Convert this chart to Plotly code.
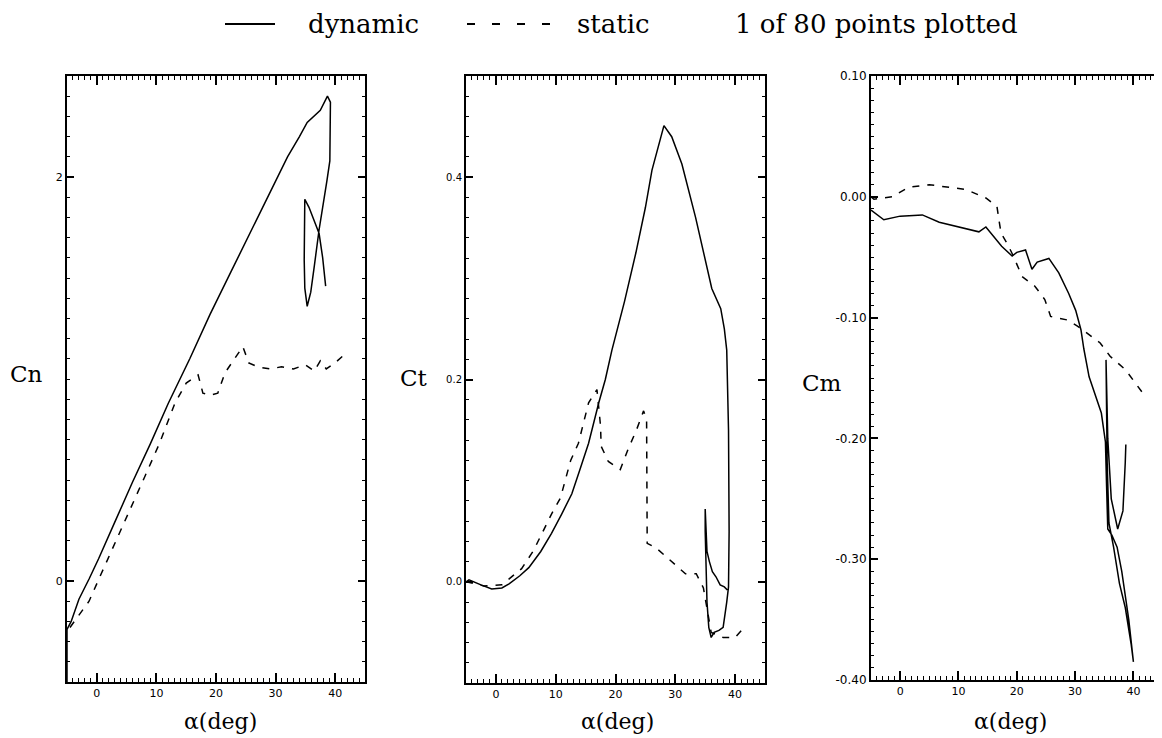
import plotly.graph_objects as go

# ---------------- data ----------------
cn_dyn_alpha = [-5.0, -5.0, -4.3, -3.0, -1.3, 0.3, 3, 6, 9, 12, 15.6, 19, 22.5, 25.5, 28.1, 30.0, 32.0, 34.0,
                35.3, 37.5, 38.7, 39.2, 39.1, 38.6, 37.8, 37.3, 36.5, 35.9, 35.3, 34.9, 34.8, 34.9, 35.6,
                36.5, 37.3, 37.9, 38.4]
cn_dyn = [-0.50, -0.24, -0.20, -0.09, 0.01, 0.11, 0.29, 0.49, 0.68, 0.88, 1.10, 1.32, 1.53, 1.71, 1.87, 1.98,
          2.10, 2.20, 2.27, 2.33, 2.40, 2.37, 2.08, 1.98, 1.84, 1.74, 1.56, 1.43, 1.36, 1.45, 1.59, 1.89, 1.85,
          1.78, 1.72, 1.60, 1.46]

cn_sta_alpha = [-4.5, -3, -1.3, 0.5, 2.5, 5, 8.1, 10.5, 13.1, 15, 17, 17.8, 19, 20.3, 21.5, 23.1, 24.5, 25.5,
                27, 29, 31, 33, 35, 36.5, 37.5, 38.5, 40, 41.5]
cn_sta = [-0.23, -0.17, -0.10, 0.02, 0.15, 0.31, 0.52, 0.68, 0.88, 0.98, 1.02, 0.93, 0.92, 0.93, 1.03, 1.10,
          1.16, 1.08, 1.06, 1.05, 1.06, 1.05, 1.07, 1.04, 1.09, 1.05, 1.08, 1.12]

ct_dyn_alpha = [-5, -4.5, -2.5, -0.7, 1, 2.2, 4, 5.5, 7.5, 9.3, 11, 12.7, 14, 15.5, 17.2, 18.3, 19.4, 21.5,
                23.4, 25, 26.1, 27.2, 28.1, 29.4, 31.1, 33.4, 35, 36.1, 37.6, 38.2, 38.6, 38.9, 39.0, 38.9,
                38.6, 38.0, 37.3, 36.5, 36.0, 35.6, 35.3, 35.1, 35.0, 35.0, 35.3, 35.7, 36.2, 36.8, 37.5,
                38.2, 38.7]
ct_dyn = [0.0, 0.002, -0.003, -0.007, -0.006, -0.002, 0.006, 0.014, 0.030, 0.048, 0.067, 0.087, 0.11, 0.137,
          0.177, 0.20, 0.229, 0.277, 0.325, 0.37, 0.407, 0.432, 0.451, 0.44, 0.413, 0.36, 0.32, 0.29, 0.27,
          0.25, 0.229, 0.15, 0.05, -0.005, -0.02, -0.045, -0.048, -0.05, -0.055, -0.045, -0.02, 0.02, 0.05,
          0.072, 0.03, 0.02, 0.01, 0.005, -0.003, -0.005, -0.008]

ct_sta_alpha = [-5, -2, 1, 4.3, 6.3, 9.3, 10.8, 12.5, 13.8, 15.5, 16.9, 17.5, 17.6, 18.8, 20.8, 22.1, 23.5,
                24.7, 25.2, 25.3, 26.7, 29.2, 31.7, 33.5, 34.7, 36, 38, 40, 41.5]
ct_sta = [0.0, -0.004, -0.003, 0.013, 0.031, 0.067, 0.083, 0.12, 0.137, 0.177, 0.19, 0.154, 0.134, 0.119,
          0.111, 0.131, 0.15, 0.169, 0.16, 0.038, 0.034, 0.021, 0.008, 0.008, -0.006, -0.05, -0.055, -0.055,
          -0.045]

cm_dyn_alpha = [-5, -2.8, 0, 3.8, 6.7, 10.1, 13.5, 14.7, 16, 17.4, 19.2, 20, 21.5, 22.6, 23.5, 25.5, 27.2,
                28.9, 30.1, 31, 31.5, 32.4, 34.5, 35.2, 35.4, 35.6, 36.3, 37.2, 38.0, 39.2, 40.0, 39.6, 38.6,
                37.6, 36.6, 35.8, 35.5, 35.3, 35.6, 36.2, 37.3, 38.2, 38.6, 38.7]
cm_dyn = [-0.011, -0.019, -0.016, -0.015, -0.021, -0.025, -0.029, -0.025, -0.033, -0.041, -0.049, -0.046,
          -0.044, -0.060, -0.054, -0.051, -0.063, -0.080, -0.094, -0.110, -0.126, -0.149, -0.179, -0.203,
          -0.24, -0.275, -0.28, -0.29, -0.31, -0.35, -0.385, -0.37, -0.34, -0.32, -0.29, -0.27, -0.22,
          -0.135, -0.20, -0.25, -0.275, -0.26, -0.22, -0.205]

cm_sta_alpha = [-5, -4.5, -1.4, 1.5, 5, 8.4, 11.3, 14.7, 16.6, 17, 17.3, 18.5, 19.5, 20.9, 23.1, 24.8, 25.8,
                28.7, 30.4, 34.3, 36, 38.6, 40.3, 42]
cm_sta = [0.0, -0.002, 0.0, 0.008, 0.010, 0.008, 0.006, -0.001, -0.008, -0.021, -0.030, -0.040, -0.050,
          -0.066, -0.074, -0.085, -0.099, -0.102, -0.107, -0.121, -0.132, -0.143, -0.154, -0.165]

x_ticks = [0, 10, 20, 30, 40]
cn_ticks = [0, 2]
cn_labels = ["0", "2"]
ct_ticks = [0.0, 0.2, 0.4]
ct_labels = ["0.0", "0.2", "0.4"]
cm_ticks = [0.10, 0.0, -0.10, -0.20, -0.30, -0.40]
cm_labels = ["0.10", "0.00", "-0.10", "-0.20", "-0.30", "-0.40"]

legend_labels = ["dynamic", "static"]
note_text = "1 of 80 points plotted"
panel_titles = ["Cn", "Ct", "Cm"]
x_title = "α(deg)"

# ---------------- figure ----------------
# the page body keeps its default 8px margin, so the figure is drawn 8px in from the window edge
OFF = 8
W, H = 1162 - OFF, 738 - OFF
SERIF = "DejaVu Serif"
fig = go.Figure()

line_solid = dict(color="black", width=1.5)
line_dash = dict(color="black", width=1.5, dash="7px,8px")

fig.add_trace(go.Scatter(x=cn_dyn_alpha, y=cn_dyn, mode="lines", line=line_solid, xaxis="x", yaxis="y"))
fig.add_trace(go.Scatter(x=cn_sta_alpha, y=cn_sta, mode="lines", line=line_dash, xaxis="x", yaxis="y"))
fig.add_trace(go.Scatter(x=ct_dyn_alpha, y=ct_dyn, mode="lines", line=line_solid, xaxis="x2", yaxis="y2"))
fig.add_trace(go.Scatter(x=ct_sta_alpha, y=ct_sta, mode="lines", line=line_dash, xaxis="x2", yaxis="y2"))
fig.add_trace(go.Scatter(x=cm_dyn_alpha, y=cm_dyn, mode="lines", line=line_solid, xaxis="x3", yaxis="y3"))
fig.add_trace(go.Scatter(x=cm_sta_alpha, y=cm_sta, mode="lines", line=line_dash, xaxis="x3", yaxis="y3"))


def px_x(p):
    return (p - OFF) / W


def px_y(p):
    return (H - (p - OFF)) / H


tickfont = dict(family="DejaVu Sans", size=11, color="black")


def xaxis(domain, anchor, rng):
    return dict(domain=domain, anchor=anchor, range=rng, tickvals=x_ticks, ticks="inside", ticklen=9,
                tickwidth=1.5, tickcolor="black", showline=True, linecolor="black", linewidth=2,
                mirror="allticks", automargin=False,
                showgrid=False, zeroline=False, tickfont=tickfont, fixedrange=True,
                minor=dict(dtick=1, ticks="inside", ticklen=4, tickcolor="black", tickwidth=1, showgrid=False))


def yaxis(domain, anchor, rng, tv, tt, mdt, fsize=11):
    return dict(domain=domain, anchor=anchor, range=rng, tickvals=tv, ticktext=tt, ticks="inside", ticklen=7,
                tickwidth=1.5, tickcolor="black", showline=True, linecolor="black", linewidth=2,
                mirror="allticks", automargin=False,
                showgrid=False, zeroline=False, tickfont=dict(family="DejaVu Sans", size=fsize, color="black"),
                minor=dict(dtick=mdt, ticks="inside", ticklen=3, tickcolor="black", tickwidth=1, showgrid=False))


panels_x = [(67, 365), (466, 765), (871, 1162)]

fig.update_layout(
    width=W, height=H,
    margin=dict(l=0, r=0, t=0, b=0),
    paper_bgcolor="white", plot_bgcolor="white",
    showlegend=False,
    xaxis=xaxis([px_x(panels_x[0][0]), px_x(panels_x[0][1])], "y", [-5, 45]),
    yaxis=yaxis([px_y(682), px_y(76)], "x", [-0.5, 2.5], cn_ticks, cn_labels, 0.1),
    xaxis2=xaxis([px_x(panels_x[1][0]), px_x(panels_x[1][1])], "y2", [-5, 45]),
    yaxis2=yaxis([px_y(683), px_y(76)], "x2", [-0.1, 0.5], ct_ticks, ct_labels, 0.02, 10),
    xaxis3=xaxis([px_x(panels_x[2][0]), 1.0], "y3", [-5, 44.9]),
    yaxis3=yaxis([px_y(680), px_y(76)], "x3", [-0.4, 0.1], cm_ticks, cm_labels, 0.01, 12),
)

# legend keys (decoration in paper coordinates)
fig.add_shape(type="line", xref="paper", yref="paper", x0=px_x(225), x1=px_x(275), y0=px_y(24), y1=px_y(24),
              line=dict(color="black", width=2))
fig.add_shape(type="line", xref="paper", yref="paper", x0=px_x(467), x1=px_x(558), y0=px_y(24), y1=px_y(24),
              line=dict(color="black", width=2, dash="8px,17px"))

leg_font = dict(family=SERIF, size=26, color="black")
fig.add_annotation(text=legend_labels[0], x=px_x(306), y=px_y(24), xref="paper", yref="paper",
                   xanchor="left", yanchor="middle", showarrow=False, font=leg_font)
fig.add_annotation(text=legend_labels[1], x=px_x(575), y=px_y(24), xref="paper", yref="paper",
                   xanchor="left", yanchor="middle", showarrow=False, font=leg_font)
fig.add_annotation(text=note_text, x=px_x(733), y=px_y(24), xref="paper", yref="paper",
                   xanchor="left", yanchor="middle", showarrow=False, font=leg_font)

title_font = dict(family=SERIF, size=23, color="black")
for txt, xl, yc in zip(panel_titles, [8, 398, 800], [374, 378, 383]):
    fig.add_annotation(text=txt, x=px_x(max(xl, OFF)), y=px_y(yc), xref="paper", yref="paper", xanchor="left",
                       yanchor="middle", showarrow=False, font=title_font)

xt_font = dict(family=SERIF, size=22, color="black")
for (a, b), xc in zip(panels_x, [220, 617, 1010]):
    fig.add_annotation(text=x_title, x=px_x(xc), y=px_y(721), xref="paper", yref="paper", xanchor="center",
                       yanchor="middle", showarrow=False, font=xt_font)

fig.write_html("out.html")
